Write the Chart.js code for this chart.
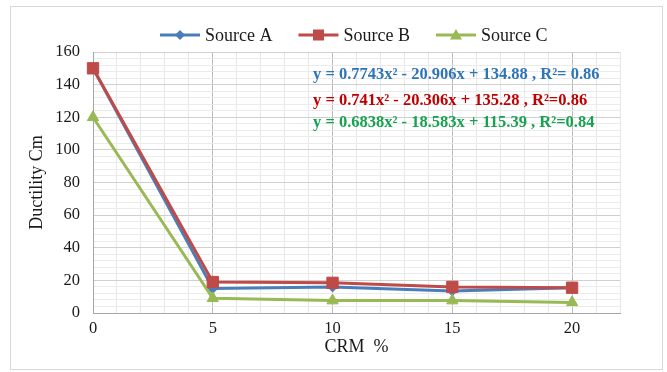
<!DOCTYPE html>
<html>
<head>
<meta charset="utf-8">
<script src="https://cdn.jsdelivr.net/npm/chart.js@4.4.1/dist/chart.umd.min.js"></script>
<style>
  html, body { margin: 0; padding: 0; background: #fff; }
  #wrap { position: relative; width: 667px; height: 372px; }
</style>
</head>
<body>
<div id="wrap"><canvas id="ductilityChart" width="667" height="372"></canvas></div>
<script>
// ===== Data =====
const crmPercent = [0, 5, 10, 15, 20];
const sourceA = [150, 15, 16, 13.5, 15.5];
const sourceB = [150, 19, 18.5, 16, 15.5];
const sourceC = [120, 9, 7.6, 7.6, 6.5];
const seriesNames = ['Source A', 'Source B', 'Source C'];
const xTickLabels = [0, 5, 10, 15, 20];
const yTickLabels = [0, 20, 40, 60, 80, 100, 120, 140, 160];
const trendLabels = [
  'y = 0.7743x² - 20.906x + 134.88 , R²= 0.86',
  'y = 0.741x² - 20.306x + 135.28 , R²=0.86',
  'y = 0.6838x² - 18.583x + 115.39 , R²=0.84'
];

const serif = '"Liberation Serif", "Times New Roman", serif';
const colors = ['#4a7ebb', '#be4b48', '#98b954'];
const trendColors = ['#2e75b6', '#c00000', '#17a24f'];
const markers = ['diamond', 'square', 'triangle'];

const toPoints = ys => crmPercent.map((x, i) => ({ x: x, y: ys[i] }));

// small marker painter, used for the legend keys
function drawMarker(ctx, kind, x, y, color) {
  ctx.save();
  ctx.fillStyle = color;
  ctx.beginPath();
  if (kind === 'diamond') {
    ctx.moveTo(x, y - 5); ctx.lineTo(x + 5, y); ctx.lineTo(x, y + 5); ctx.lineTo(x - 5, y);
  } else if (kind === 'square') {
    ctx.rect(x - 5.5, y - 5.5, 11, 11);
  } else {
    ctx.moveTo(x, y - 6); ctx.lineTo(x + 6, y + 4.5); ctx.lineTo(x - 6, y + 4.5);
  }
  ctx.closePath();
  ctx.fill();
  ctx.restore();
}

// outer frame, legend row and trendline equations
const chartExtras = {
  id: 'chartExtras',
  afterDraw(chart) {
    const ctx = chart.ctx;
    ctx.save();
    ctx.strokeStyle = '#d9d9d9';
    ctx.lineWidth = 1;
    ctx.strokeRect(10.5, 6.5, 652, 363);

    // legend
    ctx.font = '18px ' + serif;
    ctx.textBaseline = 'middle';
    ctx.textAlign = 'left';
    let x = 160;
    const ly = 35;
    chart.data.datasets.forEach((ds, i) => {
      ctx.strokeStyle = colors[i];
      ctx.lineWidth = 3;
      ctx.beginPath();
      ctx.moveTo(x, ly);
      ctx.lineTo(x + 40, ly);
      ctx.stroke();
      drawMarker(ctx, markers[i], x + 20, ly, colors[i]);
      ctx.fillStyle = '#1a1a1a';
      ctx.fillText(ds.label, x + 45, ly + 1);
      x += 45 + ctx.measureText(ds.label).width + 26;
    });

    // trendline equations
    ctx.font = 'bold 16.5px ' + serif;
    const ey = [75, 101, 123];
    trendLabels.forEach((t, i) => {
      ctx.fillStyle = trendColors[i];
      ctx.fillText(t, 313, ey[i]);
    });
    ctx.restore();
  }
};

const tickFont = { family: serif, size: 16.5 };
const titleFont = { family: serif, size: 18 };

new Chart(document.getElementById('ductilityChart'), {
  type: 'line',
  data: {
    datasets: [
      {
        label: seriesNames[0], data: toPoints(sourceA),
        borderColor: colors[0], backgroundColor: colors[0],
        pointStyle: 'rectRot', pointRadius: 5, order: 3, clip: false
      },
      {
        label: seriesNames[1], data: toPoints(sourceB),
        borderColor: colors[1], backgroundColor: colors[1],
        pointStyle: 'rect', pointRadius: 8, order: 1, clip: false
      },
      {
        label: seriesNames[2], data: toPoints(sourceC),
        borderColor: colors[2], backgroundColor: colors[2],
        pointStyle: 'triangle', pointRadius: 6.5, order: 2, clip: false
      }
    ]
  },
  options: {
    responsive: false,
    animation: false,
    layout: { padding: { left: 0, right: 47, top: 52, bottom: 0 } },
    plugins: { legend: { display: false }, tooltip: { enabled: false } },
    elements: {
      line: { borderWidth: 3, tension: 0 },
      point: { borderWidth: 1 }
    },
    scales: {
      x: {
        type: 'linear', min: 0, max: 22,
        afterFit: s => { s.height = 59; },
        ticks: {
          stepSize: 1, autoSkip: false, maxRotation: 0, padding: 6,
          font: tickFont, color: '#1a1a1a',
          callback: v => xTickLabels.includes(v) ? v : ''
        },
        grid: {
          drawTicks: false,
          color: c => (c.tick && c.tick.value % 5 === 0) ? '#bcbcbc' : '#e8e8e8'
        },
        border: { color: '#a6a6a6' },
        title: { display: true, text: 'CRM  %', font: titleFont, color: '#1a1a1a', padding: { top: 0, bottom: 14 } }
      },
      y: {
        min: 0, max: 160,
        afterFit: s => { s.width = 93; },
        ticks: {
          stepSize: 4, autoSkip: false, padding: 13,
          font: tickFont, color: '#1a1a1a',
          callback: v => yTickLabels.includes(v) ? v : ''
        },
        grid: {
          drawTicks: false,
          color: c => (c.tick && c.tick.value % 20 === 0) ? '#d0d0d0' : '#ebebeb'
        },
        border: { color: '#a6a6a6' },
        title: { display: true, text: 'Ductility Cm', font: titleFont, color: '#1a1a1a', padding: { top: 26, bottom: 0 } }
      }
    }
  },
  plugins: [chartExtras]
});
</script>
</body>
</html>
